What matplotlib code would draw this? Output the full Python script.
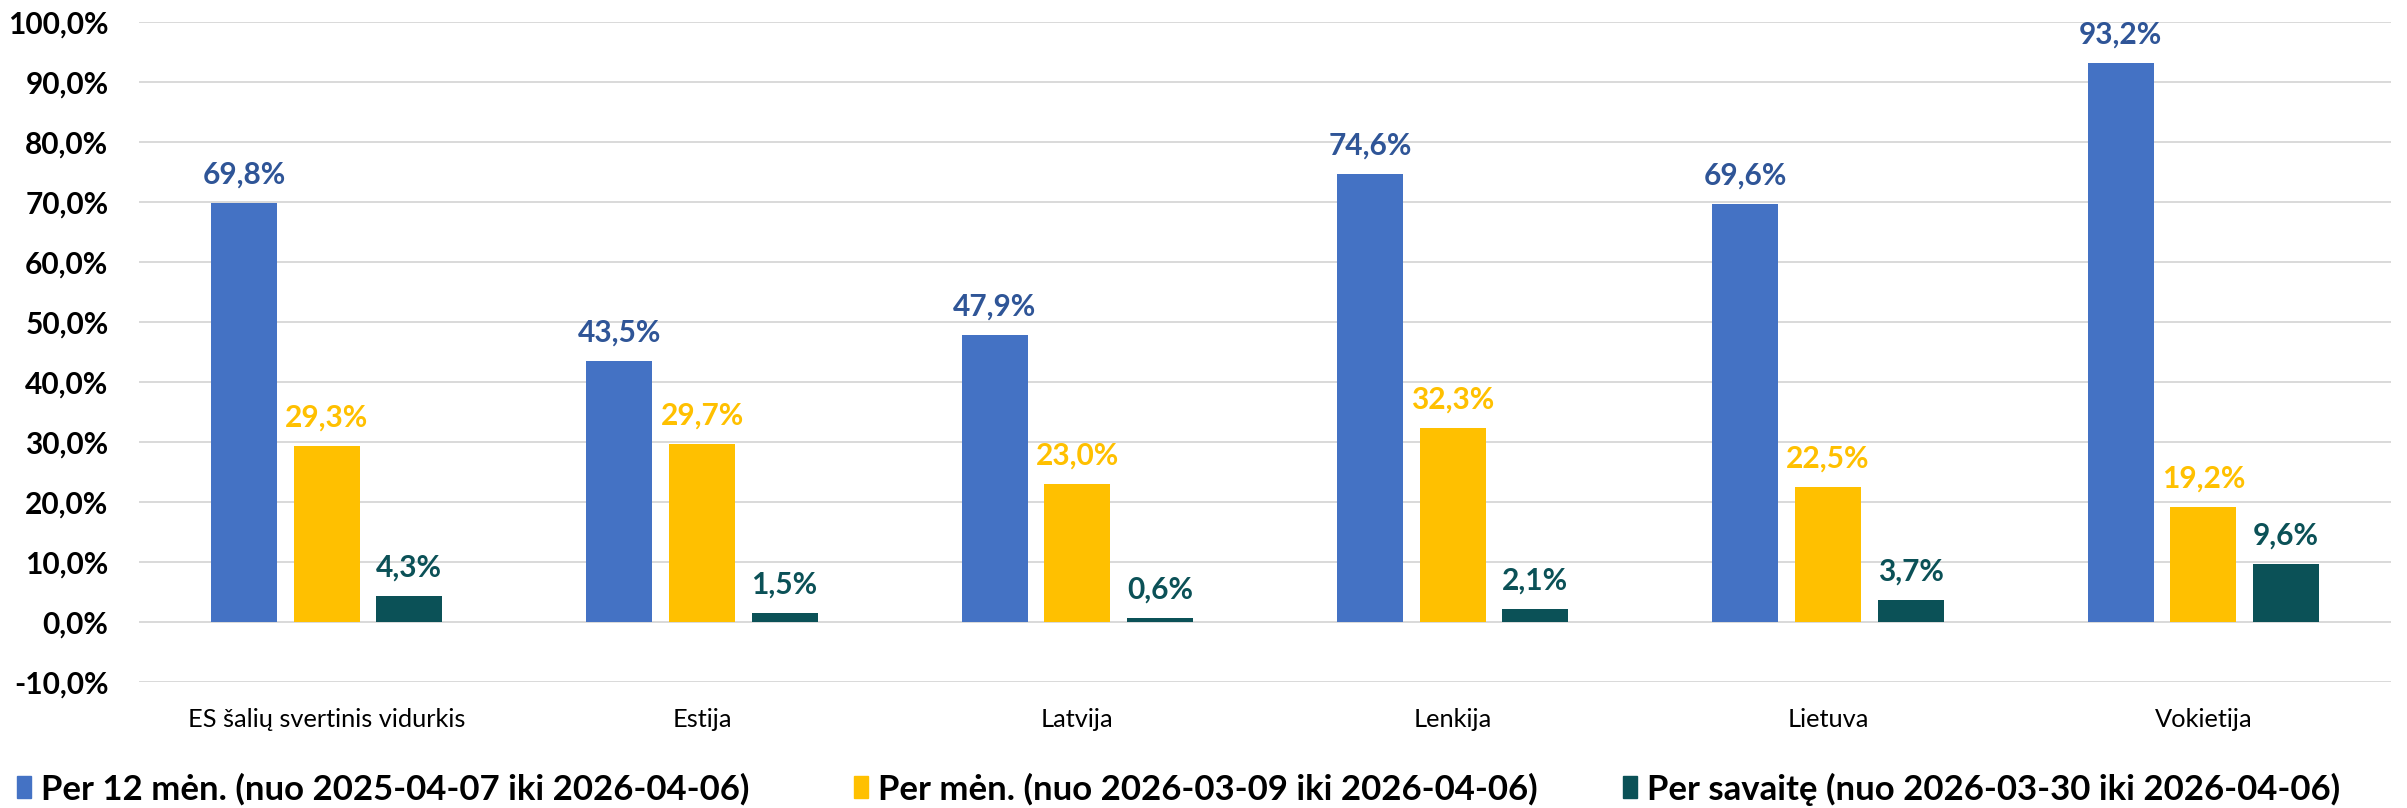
import matplotlib.pyplot as plt
from matplotlib.patches import Patch
import numpy as np

plt.rcParams['font.family'] = ['Lato', 'DejaVu Sans']

categories = ["ES šalių svertinis vidurkis", "Estija", "Latvija", "Lenkija", "Lietuva", "Vokietija"]
per_12_men = [69.8, 43.5, 47.9, 74.6, 69.6, 93.2]
per_men = [29.3, 29.7, 23.0, 32.3, 22.5, 19.2]
per_savaite = [4.3, 1.5, 0.6, 2.1, 3.7, 9.6]
series_labels = [
    "Per 12 mėn. (nuo 2025-04-07 iki 2026-04-06)",
    "Per mėn. (nuo 2026-03-09 iki 2026-04-06)",
    "Per savaitę (nuo 2026-03-30 iki 2026-04-06)",
]
yticks = [-10, 0, 10, 20, 30, 40, 50, 60, 70, 80, 90, 100]

bar_colors = ["#4472C4", "#FFC000", "#0B5157"]
label_colors = ["#2F5597", "#FFC000", "#0B5157"]

W, H = 2407, 808
fig = plt.figure(figsize=(W / 100, H / 100), dpi=100)
ax = fig.add_axes([139 / W, (H - 682) / H, (2391 - 139) / W, (682 - 22) / H])

x = np.arange(len(categories))
width = 0.176
step = 0.22

def fmt(v):
    return f"{v:.1f}%".replace(".", ",")

for i, vals in enumerate([per_12_men, per_men, per_savaite]):
    pos = x + (i - 1) * step
    ax.bar(pos, vals, width, color=bar_colors[i], zorder=3)
    for px, v in zip(pos, vals):
        ax.annotate(fmt(v), (px, v), xytext=(0, 14), textcoords="offset points",
                    ha="center", va="baseline", fontsize=21.5, fontweight="bold",
                    color=label_colors[i])

ax.set_xlim(-0.5, len(categories) - 0.5)
ax.set_ylim(-10, 100)
ax.set_yticks(yticks)
ax.set_yticklabels([fmt(t) for t in yticks], fontsize=21.5, fontweight="bold")
ax.set_xticks(x)
ax.set_xticklabels(categories, fontsize=18.3)
ax.tick_params(axis="y", length=0, pad=22)
ax.tick_params(axis="x", length=0, pad=19)
ax.grid(axis="y", color="#D9D9D9", linewidth=1.4, zorder=0)
for s in ax.spines.values():
    s.set_visible(False)

# three separate legend entries, placed where the original has them
legend_x = [17, 854, 1623]
for lx, lab, c in zip(legend_x, series_labels, bar_colors):
    fig.legend(handles=[Patch(color=c)], labels=[lab], loc="center left",
               bbox_to_anchor=(lx / W, 1 - 789 / H), frameon=False,
               prop={"size": 25, "weight": "bold"}, handlelength=0.4,
               handleheight=0.6, handletextpad=0.28, borderaxespad=0, borderpad=0)

fig.savefig("out.png", dpi=100)
